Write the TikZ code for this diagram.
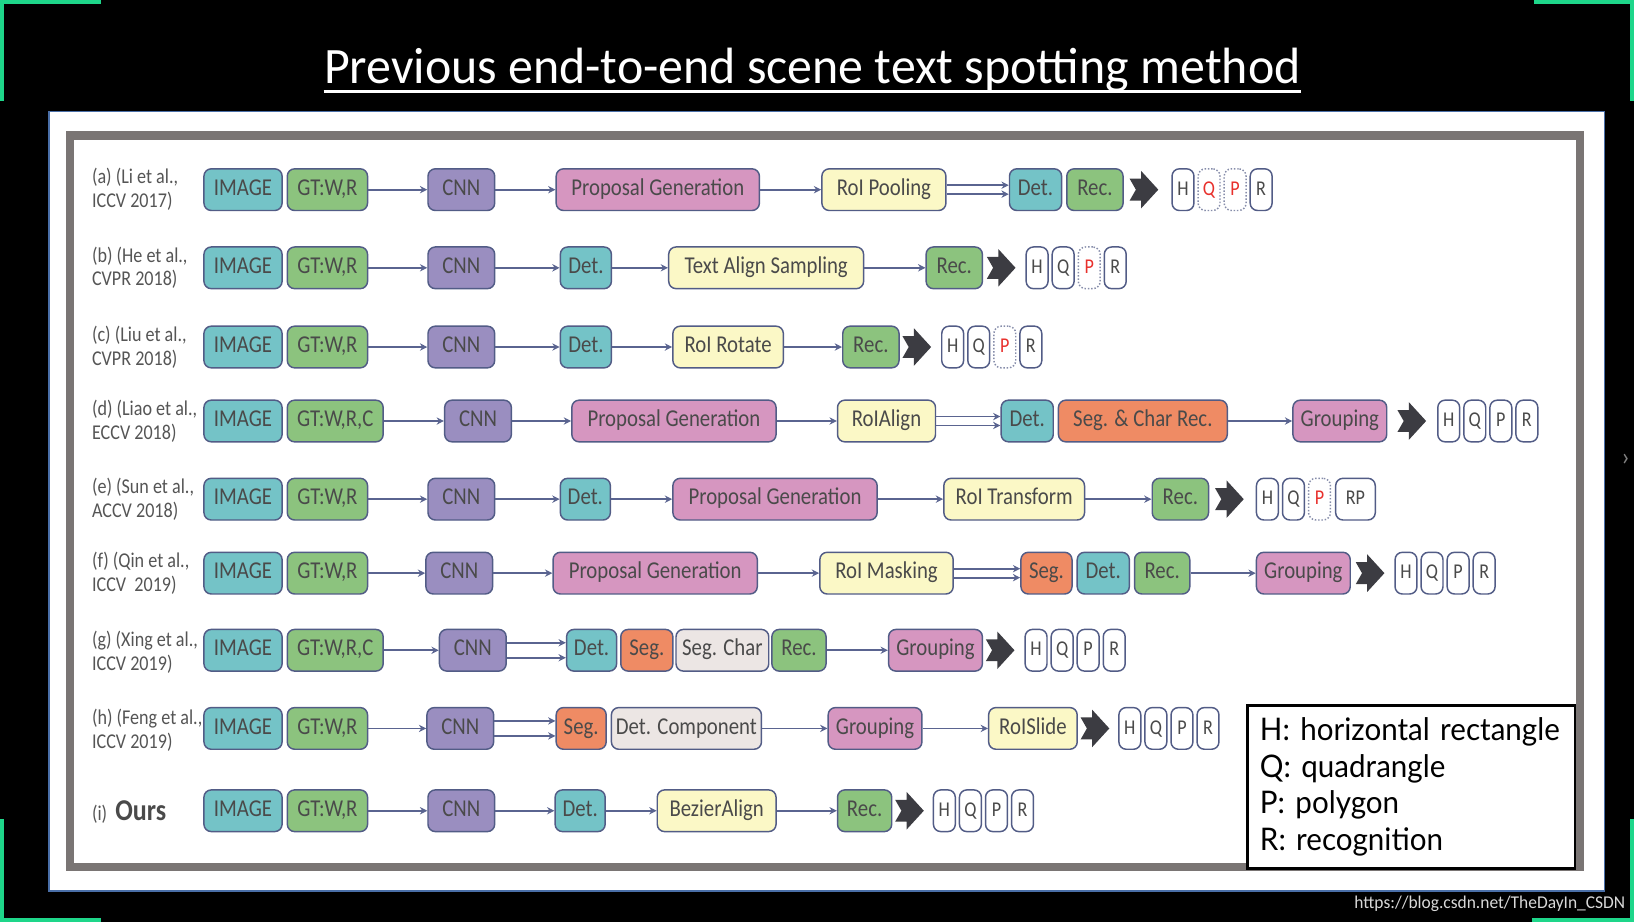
\documentclass[tikz,border=0pt]{standalone}
\usepackage{fontspec}
\setmainfont{Carlito}
\newfontfamily\boxfont[FakeStretch=0.86]{Carlito}
\newfontfamily\keyfont[FakeStretch=0.95]{Lato}
\usetikzlibrary{arrows.meta}
\definecolor{cteal}{HTML}{74C3C7}
\definecolor{cgreen}{HTML}{8CC37E}
\definecolor{cpurple}{HTML}{9A8EC0}
\definecolor{cpink}{HTML}{D696C0}
\definecolor{cyellow}{HTML}{FBF8C6}
\definecolor{corange}{HTML}{EF8B64}
\definecolor{cgrey}{HTML}{ECE6E4}
\definecolor{cedge}{HTML}{525C86}
\definecolor{carrow}{HTML}{5A6490}
\definecolor{cink}{HTML}{4A4A4A}
\definecolor{clab}{HTML}{555555}
\definecolor{cred}{HTML}{E8302C}
\definecolor{cframe}{HTML}{7A7574}
\definecolor{cmint}{HTML}{1ED68A}
\definecolor{cpanel}{HTML}{4A6FA8}
\definecolor{cchev}{HTML}{3C3C42}
\begin{document}
\begin{tikzpicture}[x=0.02cm,y=-0.02cm]
          \tikzstyle{box}=[draw=cedge,line width=0.8pt,rounded corners=4pt,anchor=west,minimum height=0.8cm,inner sep=0pt,text=cink,font={\boxfont\fontsize{13.2}{15}\selectfont},text height=8.8pt,text depth=2.6pt];
          \tikzset{w/.style={minimum width=#1*0.02cm}};
          \tikzstyle{shp}=[box,fill=white,w=21,font={\boxfont\fontsize{11.5}{14}\selectfont}];
          \tikzstyle{shpdot}=[shp,densely dotted,draw=cedge!70,text=cred];
          \tikzstyle{ar}=[draw=carrow,line width=1pt,-{Stealth[length=4pt,width=4pt]}];
          \tikzstyle{lab}=[anchor=west,align=left,inner sep=0pt,text=clab,font={\boxfont\fontsize{11.5}{13}\selectfont}];
          \tikzset{chev/.pic={\fill[cchev] (-14,10.5) -- (-3,10.5) -- (-3,18) -- (13.5,0) -- (-3,-18) -- (-3,-10.5) -- (-14,-10.5) -- (-8,0) -- cycle;}};
          %background, corners, panel
          \useasboundingbox (0,0) rectangle (1568,885);
          \fill[black] (0,0) rectangle (1568,885);
          \draw[cmint,line width=0.08cm] (0,2)--(97,2) (2,0)--(2,97);
          \draw[cmint,line width=0.08cm] (1472,2)--(1568,2) (1566,0)--(1566,97);
          \draw[cmint,line width=0.08cm] (0,883)--(97,883) (2,786)--(2,885);
          \draw[cmint,line width=0.08cm] (1470,883)--(1568,883) (1566,786)--(1566,885);
          \node[anchor=base,inner sep=0pt,text=white] (title) at (779.5,80) {\resizebox{18.74cm}{0.68cm}{Previous end-to-end scene text spotting method}};
          \draw[white,line width=1.4pt] ([yshift=-0.16cm]title.base west)--([yshift=-0.16cm]title.base east);
          \draw[cpanel,fill=white,line width=0.6pt] (47,107) rectangle (1540,855);
          \draw[cframe,line width=0.16cm] (67,130) rectangle (1516,832);
          \node[inner sep=0pt,text=gray] (more) at (1560,441) {\fontsize{14}{14}\selectfont ›};
          \node[anchor=base east,inner sep=0pt,text=white!85!black] (wm) at (1560,872) {\resizebox{5.2cm}{0.24cm}{https://blog.csdn.net/TheDayIn\_CSDN}};
          %(a)
          \node[lab] (la) at (88,182) {(a) (Li et al.,\\ICCV 2017)};
          \node[box,fill=cteal,w=75] (a1) at (195,182) {IMAGE};
          \node[box,fill=cgreen,w=77] (a2) at (275,182) {GT:W,R};
          \node[box,fill=cpurple,w=64] (a3) at (410,182) {CNN};
          \node[box,fill=cpink,w=195] (a4) at (533,182) {Proposal Generation};
          \node[box,fill=cyellow,w=119] (a5) at (788,182) {RoI Pooling};
          \node[box,fill=cteal,w=50] (a6) at (968,182) {Det.};
          \node[box,fill=cgreen,w=54] (a7) at (1023,182) {Rec.};
          \pic at (1098,182) {chev};
          \node[shp] (a8) at (1124,182) {H};
          \node[shpdot] (a9) at (1149,182) {Q};
          \node[shpdot] (a10) at (1174,182) {P};
          \node[shp] (a11) at (1199,182) {R};
          \draw[ar] (a2)--(a3);
          \draw[ar] (a3)--(a4);
          \draw[ar] (a4)--(a5);
          \draw[ar] ([yshift=0.086cm]a5.east)--([yshift=0.086cm]a6.west);
          \draw[ar] ([yshift=-0.086cm]a5.east)--([yshift=-0.086cm]a6.west);
          %(b)
          \node[lab] (lb) at (88,257) {(b) (He et al.,\\CVPR 2018)};
          \node[box,fill=cteal,w=75] (b1) at (195,257) {IMAGE};
          \node[box,fill=cgreen,w=77] (b2) at (275,257) {GT:W,R};
          \node[box,fill=cpurple,w=64] (b3) at (410,257) {CNN};
          \node[box,fill=cteal,w=49] (b4) at (537,257) {Det.};
          \node[box,fill=cyellow,w=187] (b5) at (641,257) {Text Align Sampling};
          \node[box,fill=cgreen,w=54] (b6) at (888,257) {Rec.};
          \pic at (961,257) {chev};
          \node[shp] (b7) at (984,257) {H};
          \node[shp] (b8) at (1009,257) {Q};
          \node[shpdot] (b9) at (1034,257) {P};
          \node[shp] (b10) at (1059,257) {R};
          \draw[ar] (b2)--(b3);
          \draw[ar] (b3)--(b4);
          \draw[ar] (b4)--(b5);
          \draw[ar] (b5)--(b6);
          %(c)
          \node[lab] (lc) at (88,333) {(c) (Liu et al.,\\CVPR 2018)};
          \node[box,fill=cteal,w=75] (c1) at (195,333) {IMAGE};
          \node[box,fill=cgreen,w=77] (c2) at (275,333) {GT:W,R};
          \node[box,fill=cpurple,w=64] (c3) at (410,333) {CNN};
          \node[box,fill=cteal,w=49] (c4) at (537,333) {Det.};
          \node[box,fill=cyellow,w=106] (c5) at (645,333) {RoI Rotate};
          \node[box,fill=cgreen,w=54] (c6) at (808,333) {Rec.};
          \pic at (880,333) {chev};
          \node[shp] (c7) at (903,333) {H};
          \node[shp] (c8) at (928,333) {Q};
          \node[shpdot] (c9) at (953,333) {P};
          \node[shp] (c10) at (978,333) {R};
          \draw[ar] (c2)--(c3);
          \draw[ar] (c3)--(c4);
          \draw[ar] (c4)--(c5);
          \draw[ar] (c5)--(c6);
          %(d)
          \node[lab] (ld) at (88,404) {(d) (Liao et al.,\\ECCV 2018)};
          \node[box,fill=cteal,w=75] (d1) at (195,404) {IMAGE};
          \node[box,fill=cgreen,w=92] (d2) at (275,404) {GT:W,R,C};
          \node[box,fill=cpurple,w=64] (d3) at (426,404) {CNN};
          \node[box,fill=cpink,w=196] (d4) at (548,404) {Proposal Generation};
          \node[box,fill=cyellow,w=94] (d5) at (803,404) {RoIAlign};
          \node[box,fill=cteal,w=50] (d6) at (960,404) {Det.};
          \node[box,fill=corange,w=162] (d7) at (1015,404) {Seg. \& Char Rec.};
          \node[box,fill=cpink,w=90] (d8) at (1240,404) {Grouping};
          \pic at (1355,404) {chev};
          \node[shp] (d9) at (1379,404) {H};
          \node[shp] (d10) at (1404,404) {Q};
          \node[shp] (d11) at (1429,404) {P};
          \node[shp] (d12) at (1454,404) {R};
          \draw[ar] (d2)--(d3);
          \draw[ar] (d3)--(d4);
          \draw[ar] (d4)--(d5);
          \draw[ar] ([yshift=0.086cm]d5.east)--([yshift=0.086cm]d6.west);
          \draw[ar] ([yshift=-0.086cm]d5.east)--([yshift=-0.086cm]d6.west);
          \draw[ar] (d7)--(d8);
          %(e)
          \node[lab] (le) at (88,479) {(e) (Sun et al.,\\ACCV 2018)};
          \node[box,fill=cteal,w=75] (e1) at (195,479) {IMAGE};
          \node[box,fill=cgreen,w=77] (e2) at (275,479) {GT:W,R};
          \node[box,fill=cpurple,w=64] (e3) at (410,479) {CNN};
          \node[box,fill=cteal,w=48] (e4) at (537,479) {Det.};
          \node[box,fill=cpink,w=196] (e5) at (645,479) {Proposal Generation};
          \node[box,fill=cyellow,w=135] (e6) at (905,479) {RoI Transform};
          \node[box,fill=cgreen,w=54] (e7) at (1105,479) {Rec.};
          \pic at (1180,479) {chev};
          \node[shp] (e8) at (1205,479) {H};
          \node[shp] (e9) at (1230,479) {Q};
          \node[shpdot] (e10) at (1255,479) {P};
          \node[shp,w=38] (e11) at (1281,479) {RP};
          \draw[ar] (e2)--(e3);
          \draw[ar] (e3)--(e4);
          \draw[ar] (e4)--(e5);
          \draw[ar] (e5)--(e6);
          \draw[ar] (e6)--(e7);
          %(f)
          \node[lab] (lf) at (88,550) {(f) (Qin et al.,\\ICCV\ \ 2019)};
          \node[box,fill=cteal,w=75] (f1) at (195,550) {IMAGE};
          \node[box,fill=cgreen,w=77] (f2) at (275,550) {GT:W,R};
          \node[box,fill=cpurple,w=64] (f3) at (408,550) {CNN};
          \node[box,fill=cpink,w=196] (f4) at (530,550) {Proposal Generation};
          \node[box,fill=cyellow,w=128] (f5) at (786,550) {RoI Masking};
          \node[box,fill=corange,w=49] (f6) at (979,550) {Seg.};
          \node[box,fill=cteal,w=50] (f7) at (1033,550) {Det.};
          \node[box,fill=cgreen,w=53] (f8) at (1088,550) {Rec.};
          \node[box,fill=cpink,w=90] (f9) at (1205,550) {Grouping};
          \pic at (1315,550) {chev};
          \node[shp] (f10) at (1338,550) {H};
          \node[shp] (f11) at (1363,550) {Q};
          \node[shp] (f12) at (1388,550) {P};
          \node[shp] (f13) at (1413,550) {R};
          \draw[ar] (f2)--(f3);
          \draw[ar] (f3)--(f4);
          \draw[ar] (f4)--(f5);
          \draw[ar] ([yshift=0.086cm]f5.east)--([yshift=0.086cm]f6.west);
          \draw[ar] ([yshift=-0.086cm]f5.east)--([yshift=-0.086cm]f6.west);
          \draw[ar] (f8)--(f9);
          %(g)
          \node[lab] (lg) at (88,626) {(g) (Xing et al.,\\ICCV 2019)};
          \node[box,fill=cteal,w=75] (g1) at (195,624) {IMAGE};
          \node[box,fill=cgreen,w=92] (g2) at (275,624) {GT:W,R,C};
          \node[box,fill=cpurple,w=64] (g3) at (421,624) {CNN};
          \node[box,fill=cteal,w=48] (g4) at (543,624) {Det.};
          \node[box,fill=corange,w=50] (g5) at (595,624) {Seg.};
          \node[box,fill=cgrey,w=89] (g6) at (648,624) {Seg. Char};
          \node[box,fill=cgreen,w=52] (g7) at (740,624) {Rec.};
          \node[box,fill=cpink,w=90] (g8) at (852,624) {Grouping};
          \pic at (960,624) {chev};
          \node[shp] (g9) at (983,624) {H};
          \node[shp] (g10) at (1008,624) {Q};
          \node[shp] (g11) at (1033,624) {P};
          \node[shp] (g12) at (1058,624) {R};
          \draw[ar] (g2)--(g3);
          \draw[ar] ([yshift=0.144cm]g3.east)--([yshift=0.144cm]g4.west);
          \draw[ar] ([yshift=-0.144cm]g3.east)--([yshift=-0.144cm]g4.west);
          \draw[ar] (g7)--(g8);
          %(h)
          \node[lab] (lh) at (88,701) {(h) (Feng et al.,\\ICCV 2019)};
          \node[box,fill=cteal,w=75] (h1) at (195,699) {IMAGE};
          \node[box,fill=cgreen,w=77] (h2) at (275,699) {GT:W,R};
          \node[box,fill=cpurple,w=64] (h3) at (409,699) {CNN};
          \node[box,fill=corange,w=48] (h4) at (533,699) {Seg.};
          \node[box,fill=cgrey,w=144] (h5) at (586,699) {Det. Component};
          \node[box,fill=cpink,w=90] (h6) at (794,699) {Grouping};
          \node[box,fill=cyellow,w=85] (h7) at (948,699) {RoISlide};
          \pic at (1051,699) {chev};
          \node[shp] (h8) at (1073,699) {H};
          \node[shp] (h9) at (1098,699) {Q};
          \node[shp] (h10) at (1123,699) {P};
          \node[shp] (h11) at (1148,699) {R};
          \draw[ar] (h2)--(h3);
          \draw[ar] ([yshift=0.144cm]h3.east)--([yshift=0.144cm]h4.west);
          \draw[ar] ([yshift=-0.144cm]h3.east)--([yshift=-0.144cm]h4.west);
          \draw[ar] (h5)--(h6);
          \draw[ar] (h6)--(h7);
          %(i) ours
          \node[lab] (li) at (88,779) {(i)\ \ \textcolor{cink}{\fontsize{16.5}{16.5}\selectfont\bfseries Ours}};
          \node[box,fill=cteal,w=75] (i1) at (195,778) {IMAGE};
          \node[box,fill=cgreen,w=77] (i2) at (275,778) {GT:W,R};
          \node[box,fill=cpurple,w=64] (i3) at (410,778) {CNN};
          \node[box,fill=cteal,w=48] (i4) at (532,778) {Det.};
          \node[box,fill=cyellow,w=114] (i5) at (630,778) {BezierAlign};
          \node[box,fill=cgreen,w=52] (i6) at (803,778) {Rec.};
          \pic at (873,778) {chev};
          \node[shp] (i7) at (895,778) {H};
          \node[shp] (i8) at (920,778) {Q};
          \node[shp] (i9) at (945,778) {P};
          \node[shp] (i10) at (970,778) {R};
          \draw[ar] (i2)--(i3);
          \draw[ar] (i3)--(i4);
          \draw[ar] (i4)--(i5);
          \draw[ar] (i5)--(i6);
          %key
          \node[draw=black,line width=1.2pt,fill=white,anchor=north west,minimum height=3.12cm,text width=5.8cm,inner sep=0.24cm,align=left,font={\keyfont\fontsize{17}{19.9}\selectfont}] (key) at (1196,676) {H: horizontal rectangle\\Q: quadrangle\\P: polygon\\R: recognition};
      \end{tikzpicture}
\end{document}
